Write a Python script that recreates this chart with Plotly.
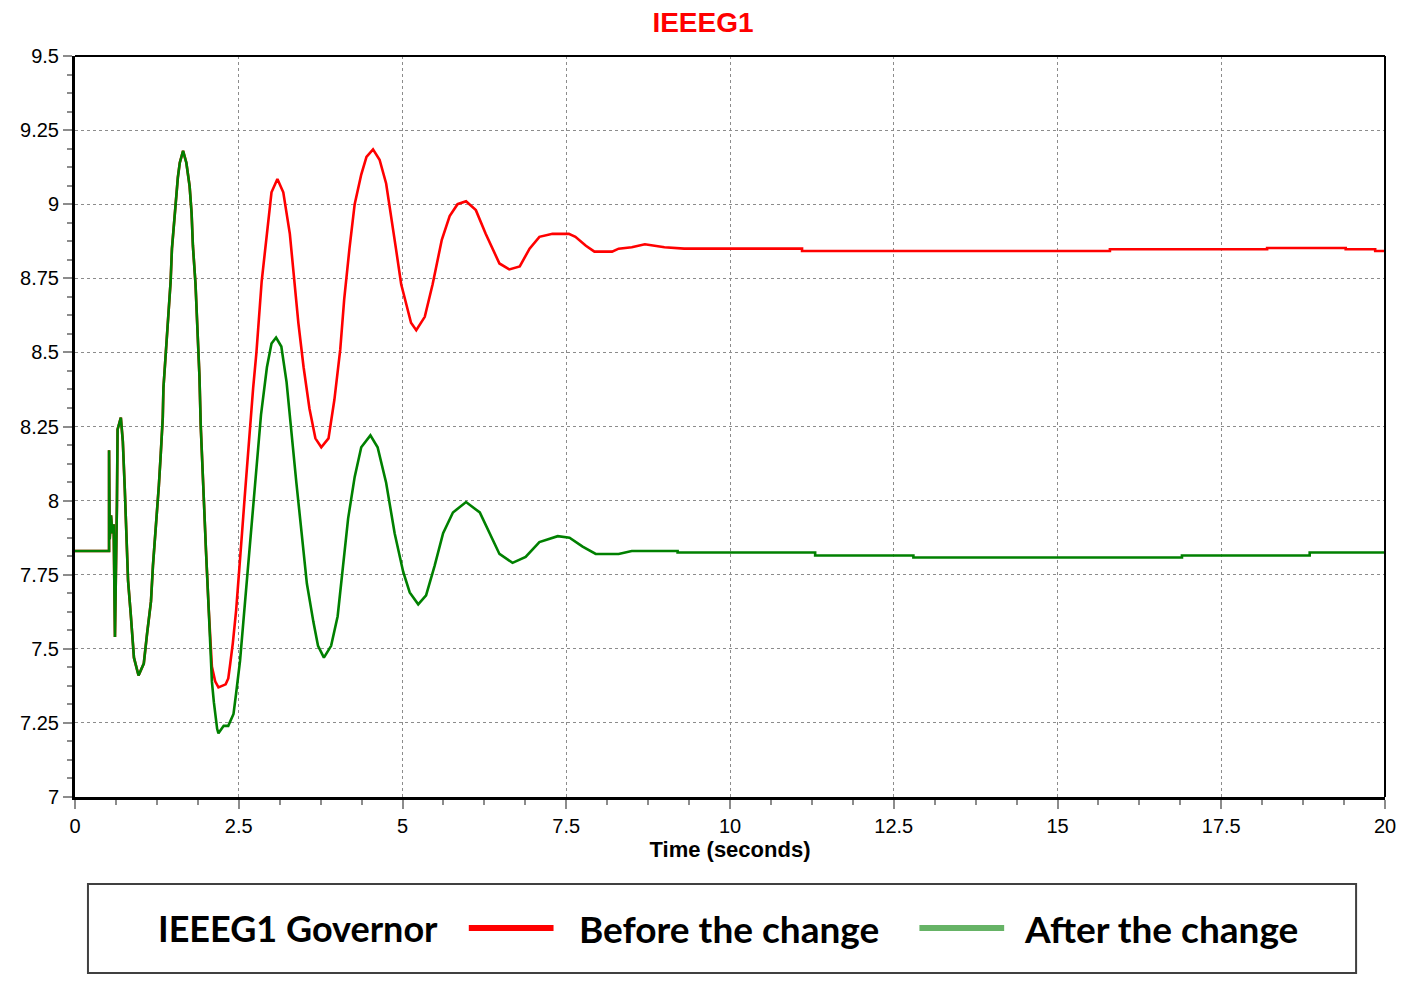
import plotly.graph_objects as go

# ---- data (time in s, value) ----
# shared start (red lies under the green until ~2 s)
t_common = [0, 0.52, 0.52, 0.53, 0.55, 0.57, 0.59, 0.61, 0.64, 0.65, 0.70, 0.73, 0.76, 0.78,
            0.81, 0.85, 0.88, 0.90, 0.97, 1.05, 1.10, 1.16, 1.19, 1.23, 1.28, 1.31, 1.34,
            1.35, 1.39, 1.42, 1.46, 1.48, 1.51, 1.54, 1.57, 1.60, 1.65, 1.70, 1.75, 1.78,
            1.80, 1.84, 1.87, 1.90, 1.92, 1.95, 2.00]
v_common = [7.83, 7.83, 8.17, 7.87, 7.95, 7.89, 7.92, 7.54, 7.985, 8.24, 8.28, 8.20, 8.04, 7.88,
            7.73, 7.62, 7.53, 7.47, 7.41, 7.45, 7.55, 7.66, 7.78, 7.89, 8.05, 8.16, 8.28,
            8.38, 8.51, 8.62, 8.74, 8.85, 8.94, 9.02, 9.09, 9.14, 9.18, 9.14, 9.06, 8.97,
            8.86, 8.73, 8.58, 8.42, 8.25, 8.08, 7.83]

t_before = [2.04, 2.07, 2.09, 2.14, 2.19, 2.30, 2.34, 2.37, 2.41, 2.46, 2.51, 2.55, 2.59, 2.64,
            2.67, 2.72, 2.77, 2.85, 2.93, 3.00, 3.09, 3.18, 3.28, 3.35, 3.41, 3.49, 3.58,
            3.67, 3.76, 3.87, 3.96, 4.05, 4.11, 4.19, 4.27, 4.37, 4.45, 4.55, 4.65, 4.75,
            4.83, 4.90, 4.98, 5.07, 5.13, 5.21, 5.34, 5.46, 5.60, 5.72, 5.84, 5.97, 6.12,
            6.27, 6.38, 6.48, 6.63, 6.79, 6.94, 7.09, 7.29, 7.54, 7.64, 7.80, 7.93, 8.2,
            8.3, 8.5, 8.7, 9.0, 9.3, 11.1, 11.1, 15.8, 15.8, 18.2, 18.2, 19.4, 19.4,
            19.85, 19.85, 20]
v_before = [7.64, 7.51, 7.44, 7.39, 7.37, 7.38, 7.40, 7.45, 7.52, 7.63, 7.76, 7.89, 8.01, 8.16,
            8.26, 8.38, 8.50, 8.74, 8.90, 9.04, 9.085, 9.04, 8.90, 8.73, 8.60, 8.45, 8.31,
            8.21, 8.18, 8.21, 8.34, 8.51, 8.68, 8.85, 9.00, 9.10, 9.16, 9.185, 9.15, 9.07,
            8.96, 8.85, 8.73, 8.65, 8.60, 8.575, 8.62, 8.73, 8.88, 8.96, 9.00, 9.01, 8.98,
            8.90, 8.85, 8.80, 8.78, 8.79, 8.85, 8.89, 8.90, 8.90, 8.89, 8.86, 8.84, 8.84,
            8.85, 8.855, 8.865, 8.855, 8.85, 8.85, 8.842, 8.842, 8.848, 8.848, 8.852, 8.852,
            8.848, 8.848, 8.842, 8.842]

t_after = [2.04, 2.07, 2.09, 2.12, 2.17, 2.19, 2.27, 2.34, 2.42, 2.46, 2.52, 2.57, 2.62, 2.67,
           2.73, 2.79, 2.84, 2.93, 3.00, 3.07, 3.15, 3.23, 3.30, 3.38, 3.46, 3.54, 3.64,
           3.71, 3.80, 3.91, 4.01, 4.09, 4.17, 4.27, 4.37, 4.51, 4.62, 4.75, 4.88, 5.01,
           5.11, 5.24, 5.36, 5.49, 5.62, 5.77, 5.97, 6.18, 6.33, 6.48, 6.68, 6.88, 7.09,
           7.37, 7.55, 7.75, 7.95, 8.3, 8.5, 9.2, 9.2, 11.3, 11.3, 12.8, 12.8, 16.9, 16.9,
           18.85, 18.85, 20]
v_after = [7.64, 7.51, 7.39, 7.32, 7.23, 7.215, 7.24, 7.24, 7.28, 7.35, 7.46, 7.59, 7.72, 7.84,
           8.00, 8.17, 8.29, 8.45, 8.53, 8.55, 8.52, 8.40, 8.23, 8.06, 7.89, 7.72, 7.59,
           7.51, 7.47, 7.51, 7.61, 7.78, 7.94, 8.08, 8.18, 8.22, 8.18, 8.06, 7.89, 7.76,
           7.69, 7.65, 7.68, 7.78, 7.89, 7.96, 7.995, 7.96, 7.89, 7.82, 7.79, 7.81, 7.86,
           7.88, 7.875, 7.845, 7.82, 7.82, 7.83, 7.83, 7.825, 7.825, 7.815, 7.815, 7.808,
           7.808, 7.815, 7.815, 7.825, 7.825]

chart_title = "IEEEG1"
x_title = "Time (seconds)"
legend_title = "IEEEG1 Governor"
series_names = ["Before the change", "After the change"]

RED = "#ff0000"
GREEN = "#008000"
GREEN_LEG = "#66b366"
FONT = "Liberation Sans, Arial, sans-serif"

fig = go.Figure()
fig.add_trace(go.Scatter(x=t_common + t_before, y=v_common + v_before, mode="lines",
                         name=series_names[0], line=dict(color=RED, width=2.6)))
fig.add_trace(go.Scatter(x=t_common + t_after, y=v_common + v_after, mode="lines",
                         name=series_names[1], line=dict(color=GREEN, width=2.6)))

axis_common = dict(
    showgrid=True, gridcolor="#8c8c8c", griddash="dot", gridwidth=1,
    ticks="outside", tickcolor="#8c8c8c", tickwidth=2, ticklen=9,
    showline=True, linecolor="black", linewidth=3, zeroline=False,
    tickfont=dict(family=FONT, size=20, color="black"),
)

fig.update_xaxes(range=[0, 20], dtick=2.5, tick0=0,
                 minor=dict(dtick=0.625, ticks="outside", ticklen=5, tickcolor="#8c8c8c",
                            tickwidth=2, showgrid=False),
                 title=dict(text="<b>" + x_title + "</b>", standoff=6,
                            font=dict(family=FONT, size=22, color="black")),
                 **axis_common)
fig.update_yaxes(range=[7, 9.5], dtick=0.25, tick0=7,
                 minor=dict(dtick=0.0625, ticks="outside", ticklen=5, tickcolor="#8c8c8c",
                            tickwidth=2, showgrid=False),
                 **axis_common)

# top and right frame lines
fig.add_shape(type="line", xref="paper", yref="paper", x0=0, x1=1, y0=1, y1=1,
              line=dict(color="black", width=2))
fig.add_shape(type="line", xref="paper", yref="paper", x0=1, x1=1, y0=0, y1=1,
              line=dict(color="black", width=2))

# custom legend box below the plot (positions given in reference page pixels)
W, H = 1314.0, 741.0
def px(x):
    return (x - 71) / W
def py(y):
    return (797 - y) / H

fig.add_shape(type="rect", xref="paper", yref="paper", x0=px(84), x1=px(1356),
              y0=py(973), y1=py(884), line=dict(color="#404040", width=2),
              fillcolor="white")
fig.add_shape(type="line", xref="paper", yref="paper", x0=px(466), x1=px(551),
              y0=py(928), y1=py(928), line=dict(color=RED, width=6))
fig.add_shape(type="line", xref="paper", yref="paper", x0=px(918), x1=px(1003),
              y0=py(928), y1=py(928), line=dict(color=GREEN_LEG, width=6))
for txt, xl, fs in [(legend_title, 152, 36), (series_names[0], 575, 37),
                    (series_names[1], 1021, 37)]:
    fig.add_annotation(text="<b>" + txt + "</b>", xref="paper", yref="paper",
                       x=px(xl), y=py(928), xanchor="left", yanchor="middle",
                       showarrow=False,
                       font=dict(family="Lato, Noto Sans, sans-serif", size=fs, color="black"))

# the page adds an 8px body margin, so the figure is 8px smaller and shifted
fig.update_layout(
    width=1400, height=983,
    margin=dict(l=63, r=23, t=48, b=194),
    paper_bgcolor="white", plot_bgcolor="white",
    showlegend=False,
    title=dict(text="<b>" + chart_title + "</b>", x=(703 - 8) / 1400, xanchor="center",
               y=1 - 14 / 983, yanchor="middle", yref="container",
               font=dict(family=FONT, size=28, color=RED)),
)

fig.write_html("out.html")
